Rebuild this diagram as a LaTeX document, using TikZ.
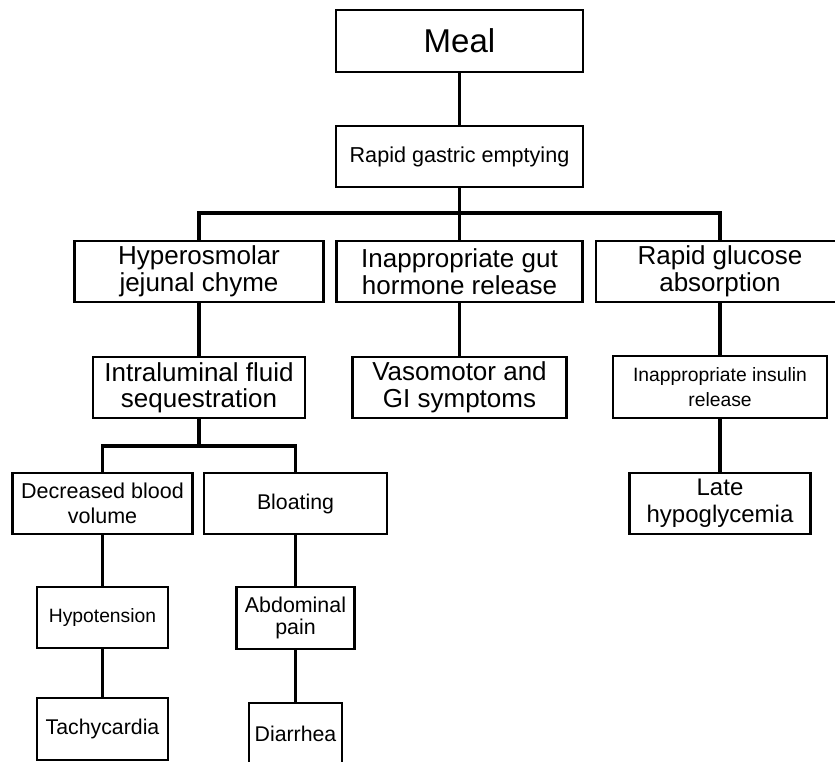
\documentclass[tikz,border=0pt]{standalone}
\usepackage{fontspec}
\setmainfont{Liberation Sans}
\tikzset{
  box/.style={draw=black, line width=2.2pt, align=center, inner sep=0pt,
              fill=white, font=\fontsize{21.3}{23.5}\selectfont},
  mealbox/.style={box, font=\fontsize{33}{36}\selectfont},
  bigbox/.style={box, font=\fontsize{26}{27}\selectfont},
  latebox/.style={box, font=\fontsize{24}{27}\selectfont},
  smallbox/.style={box, font=\fontsize{19.3}{25}\selectfont},
  boxsize/.style 2 args={minimum width=#1pt, minimum height=#2pt},
  link/.style={line width=3.2pt, draw=black},
}
\begin{document}
\begin{tikzpicture}[x=1pt, y=-1pt]
  \useasboundingbox (0,0) rectangle (835,761);
  \clip (0,0) rectangle (835,761);

  % top of the tree
  \node[mealbox, boxsize={247}{62}] (meal) at (459.5,41) {Meal};
  \node[box, boxsize={247}{61}, font=\fontsize{21.6}{24}\selectfont]
    (rge) at (459.5,156.5) {Rapid gastric emptying};

  % three branches
  \node[bigbox, boxsize={249}{61}] (hyper) at (199,271.5) {Hyperosmolar\\ jejunal chyme};
  \node[bigbox, boxsize={246}{61}] (gut) at (459.5,271.5) {Inappropriate gut\\ hormone release};
  \node[bigbox, boxsize={248}{61}] (glucose) at (720,271.5) {Rapid glucose\\ absorption};

  \node[bigbox, boxsize={212}{61}, font=\fontsize{26}{26}\selectfont]
    (intra) at (199,387.5) {Intraluminal fluid\\ sequestration};
  \node[bigbox, boxsize={214}{61}] (vaso) at (459.5,387.5) {Vasomotor and\\ GI symptoms};
  \node[smallbox, boxsize={214}{62}] (insulin) at (720,387) {Inappropriate insulin\\ release};

  \node[box, boxsize={180}{61}, font=\fontsize{21.5}{25}\selectfont]
    (dbv) at (102.5,503.5) {Decreased blood\\ volume};
  \node[box, boxsize={183}{61}] (bloat) at (295.5,503.5) {Bloating};
  \node[latebox, boxsize={181}{61}] (late) at (720,503.5) {Late\\ hypoglycemia};

  \node[smallbox, boxsize={131}{61}] (hypo) at (102.5,617.5) {Hypotension};
  \node[box, boxsize={118}{62}, font=\fontsize{21.4}{22.5}\selectfont]
    (abd) at (295.5,618) {Abdominal\\ pain};
  \node[box, boxsize={131}{62}] (tachy) at (102.5,729) {Tachycardia};
  \node[box, boxsize={93}{62}] (diar) at (295.5,734) {Diarrhea};

  \coordinate (bus1) at (459.5,213);
  \coordinate (bus2) at (199,446);

  \draw[link] (meal) -- (rge);
  \draw[link] (rge) -- (bus1);
  \draw[link] (bus1) -- (gut);
  \draw[link] (bus1) -| (hyper);
  \draw[link] (bus1) -| (glucose);
  \draw[link] (hyper) -- (intra);
  \draw[link] (gut) -- (vaso);
  \draw[link] (glucose) -- (insulin);
  \draw[link] (insulin) -- (late);
  \draw[link] (intra) -- (bus2);
  \draw[link] (bus2) -| (dbv);
  \draw[link] (bus2) -| (bloat);
  \draw[link] (dbv) -- (hypo);
  \draw[link] (hypo) -- (tachy);
  \draw[link] (bloat) -- (abd);
  \draw[link] (abd) -- (diar);
\end{tikzpicture}
\end{document}
